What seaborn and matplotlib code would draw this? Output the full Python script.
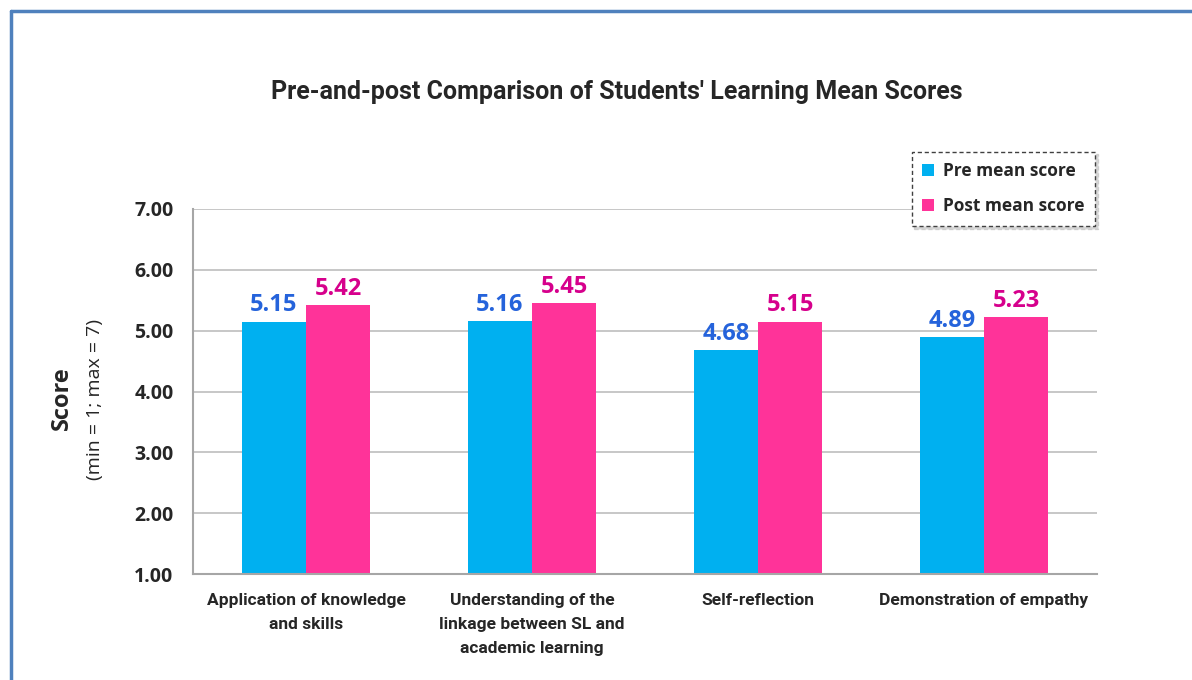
import matplotlib
matplotlib.use("Agg")
import matplotlib.pyplot as plt
import seaborn as sns
import pandas as pd
from matplotlib.lines import Line2D
from matplotlib.patches import Patch

categories = ["Application of knowledge\nand skills",
              "Understanding of the\nlinkage between SL and\nacademic learning",
              "Self-reflection",
              "Demonstration of empathy"]
series_names = ["Pre mean score", "Post mean score"]
pre_values = [5.15, 5.16, 4.68, 4.89]
post_values = [5.42, 5.45, 5.15, 5.23]
y_ticks = [1, 2, 3, 4, 5, 6, 7]

bar_colors = ["#00B0F0", "#FF3399"]
label_colors = ["#2563DB", "#D6008C"]

df = pd.DataFrame({
    "category": categories * 2,
    "series": [series_names[0]] * 4 + [series_names[1]] * 4,
    "value": pre_values + post_values,
})

sns.set_theme(style="white")
plt.rcParams["font.family"] = ["Lato", "DejaVu Sans"]

fig = plt.figure(figsize=(11.92, 6.8), dpi=100)
ax = fig.add_axes([193 / 1192, 1 - 574 / 680, (1097 - 193) / 1192, (574 - 209) / 680])

sns.barplot(data=df, x="category", y="value", hue="series", palette=bar_colors,
            width=0.57, gap=0, saturation=1, ax=ax, legend=False, linewidth=0)

ax.set_ylim(1, 7)
ax.set_xlim(-0.5, 3.5)
ax.set_yticks(y_ticks)
ax.set_yticklabels([f"{t:.2f}" for t in y_ticks], fontsize=14, fontweight="bold",
                   fontfamily=["Open Sans", "DejaVu Sans"])
ax.tick_params(axis="y", length=0, pad=14)
ax.tick_params(axis="x", length=0, pad=14)
for lbl in ax.get_xticklabels():
    lbl.set_fontsize(12.5)
    lbl.set_fontweight("bold")
    lbl.set_fontfamily(["Roboto", "DejaVu Sans"])
    lbl.set_linespacing(1.75)
    lbl.set_verticalalignment("top")

ax.grid(axis="y", color="#BDBDBD", linewidth=1.2)
ax.set_axisbelow(True)
for s in ["top", "right"]:
    ax.spines[s].set_visible(False)
for s in ["left", "bottom"]:
    ax.spines[s].set_color("#A6A6A6")
    ax.spines[s].set_linewidth(1.5)
ax.set_xlabel("")
ax.set_ylabel("")

# value labels
for i, cont in enumerate(ax.containers):
    ax.bar_label(cont, labels=[f"{v:.2f}" for v in cont.datavalues], padding=3,
                 color=label_colors[i], fontsize=17, fontweight="bold",
                 fontfamily=["Open Sans", "DejaVu Sans"])

# y label
fig.text(62 / 1192, 1 - 398 / 680, "Score", rotation=90, ha="center", va="center",
         fontsize=17, fontweight="bold", fontfamily=["Open Sans", "DejaVu Sans"])
fig.text(95 / 1192, 1 - 400 / 680, "(min = 1; max = 7)", rotation=90, ha="center",
         va="center", fontsize=14, fontfamily=["Open Sans", "DejaVu Sans"])

# title
fig.text(617 / 1192, 1 - 92 / 680, "Pre-and-post Comparison of Students' Learning Mean Scores",
         ha="center", va="center", fontsize=18, fontweight="bold",
         fontfamily=["Roboto", "DejaVu Sans"])

# legend
handles = [Patch(facecolor=c, edgecolor="none") for c in bar_colors]
leg = fig.legend(handles, series_names, loc="upper left",
                 bbox_to_anchor=(903 / 1192, 1 - 143 / 680),
                 prop={"weight": "bold", "size": 12.5, "family": ["Open Sans", "DejaVu Sans"]},
                 handlelength=0.7, handleheight=0.7, handletextpad=0.5,
                 labelspacing=1.0, borderpad=0.6, frameon=True, fancybox=False,
                 shadow={"color": "#BBBBBB", "alpha": 0.6})
fr = leg.get_frame()
fr.set_edgecolor("#404040")
fr.set_linestyle((0, (3, 2)))
fr.set_linewidth(1.0)
fr.set_facecolor("white")

# outer frame (blue border at top and left)
fig.add_artist(Line2D([11 / 1192, 11 / 1192], [0, 1 - 11 / 680], color="#4F81BD",
                      linewidth=2.5, transform=fig.transFigure))
fig.add_artist(Line2D([11 / 1192, 1], [1 - 11 / 680, 1 - 11 / 680], color="#4F81BD",
                      linewidth=2.5, transform=fig.transFigure))

fig.savefig("out.png", dpi=100)
